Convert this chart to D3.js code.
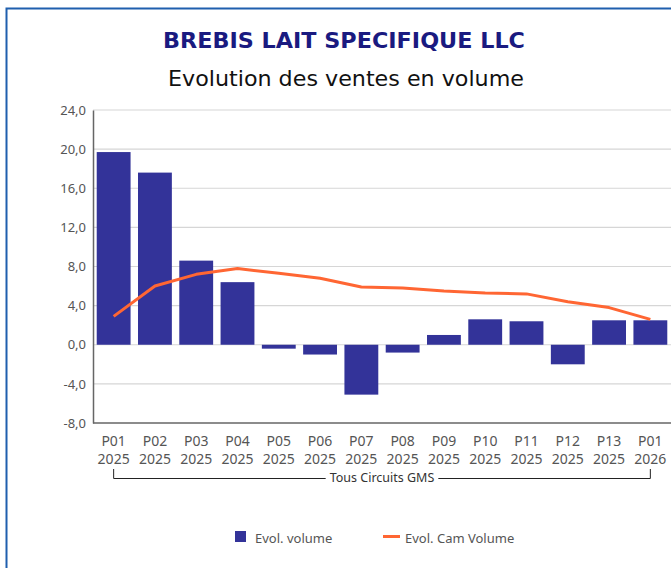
<!DOCTYPE html>
<html>
<head>
<meta charset="utf-8">
<script src="https://cdn.jsdelivr.net/npm/d3@7"></script>
<style>
  body { margin: 0; background: #fff; }
  svg { display: block; font-family: "Noto Sans", sans-serif; }
</style>
</head>
<body>
<div id="chart"></div>
<script>
// --- data ---
const periods = ["P01", "P02", "P03", "P04", "P05", "P06", "P07", "P08", "P09", "P10", "P11", "P12", "P13", "P01"];
const years = ["2025", "2025", "2025", "2025", "2025", "2025", "2025", "2025", "2025", "2025", "2025", "2025", "2025", "2026"];
const evolVolume = [19.7, 17.6, 8.6, 6.4, -0.4, -1.0, -5.1, -0.8, 1.0, 2.6, 2.4, -2.0, 2.5, 2.5];
const evolCam = [2.9, 6.0, 7.2, 7.8, 7.3, 6.8, 5.9, 5.8, 5.5, 5.3, 5.2, 4.4, 3.8, 2.6];
const yTicks = [-8, -4, 0, 4, 8, 12, 16, 20, 24];

const width = 671, height = 568;
const svg = d3.select("#chart").append("svg")
  .attr("width", width)
  .attr("height", height);

// frame
svg.append("rect")
  .attr("x", 6.5).attr("y", 8.5)
  .attr("width", width + 10).attr("height", height + 10)
  .attr("fill", "none")
  .attr("stroke", "#1f5fae")
  .attr("stroke-width", 2);

// titles
svg.append("text")
  .attr("x", 344).attr("y", 48)
  .attr("text-anchor", "middle")
  .attr("font-family", "DejaVu Sans")
  .attr("font-size", 21.5).attr("font-weight", "bold")
  .attr("fill", "#1a1a80")
  .attr("textLength", 362).attr("lengthAdjust", "spacingAndGlyphs")
  .text("BREBIS LAIT SPECIFIQUE LLC");

svg.append("text")
  .attr("x", 346).attr("y", 86)
  .attr("text-anchor", "middle")
  .attr("font-family", "DejaVu Sans")
  .attr("font-size", 21)
  .attr("fill", "#111")
  .attr("textLength", 356).attr("lengthAdjust", "spacingAndGlyphs")
  .text("Evolution des ventes en volume");

// scales
const idx = d3.range(periods.length);
const x = d3.scaleBand().domain(idx).range([93, 671]).paddingInner(0.18).paddingOuter(0.09);
const y = d3.scaleLinear().domain([-8, 24]).range([423, 110]);

// gridlines
svg.append("g")
  .selectAll("line")
  .data(yTicks.filter(t => t !== -8))
  .join("line")
  .attr("x1", 93).attr("x2", 671)
  .attr("y1", d => y(d)).attr("y2", d => y(d))
  .attr("stroke", "#d6d6d6")
  .attr("stroke-width", 1.2);

// y axis
const yAxis = svg.append("g")
  .attr("transform", "translate(93,0)")
  .call(d3.axisLeft(y).tickValues(yTicks).tickSize(0).tickPadding(7)
    .tickFormat(d => d3.format(".1f")(d).replace(".", ",").replace("−", "-")));
yAxis.select(".domain").attr("stroke", "#666").attr("stroke-width", 1.5);
yAxis.selectAll("text").attr("font-size", 13).attr("fill", "#555").attr("font-family", "Noto Sans");

// bottom axis line
svg.append("line")
  .attr("x1", 93).attr("x2", 671)
  .attr("y1", y(-8)).attr("y2", y(-8))
  .attr("stroke", "#666").attr("stroke-width", 1.5);

// bars
svg.append("g")
  .selectAll("rect")
  .data(evolVolume)
  .join("rect")
  .attr("x", (d, i) => x(i))
  .attr("width", x.bandwidth())
  .attr("y", d => y(Math.max(0, d)))
  .attr("height", d => Math.abs(y(d) - y(0)))
  .attr("fill", "#333399");

// line
const line = d3.line()
  .x((d, i) => x(i) + x.bandwidth() / 2)
  .y(d => y(d));
svg.append("path")
  .datum(evolCam)
  .attr("d", line)
  .attr("fill", "none")
  .attr("stroke", "#ff6633")
  .attr("stroke-width", 3)
  .attr("stroke-linejoin", "round");

// x labels
const xl = svg.append("g")
  .selectAll("text")
  .data(idx)
  .join("text")
  .attr("x", i => x(i) + x.bandwidth() / 2)
  .attr("text-anchor", "middle")
  .attr("font-size", 14)
  .attr("fill", "#555");
xl.append("tspan").attr("x", i => x(i) + x.bandwidth() / 2).attr("y", 446).text(i => periods[i]);
xl.append("tspan").attr("x", i => x(i) + x.bandwidth() / 2).attr("y", 464).text(i => years[i]);

// group bracket
const bx1 = x(0) + x.bandwidth() / 2;
const bx2 = x(periods.length - 1) + x.bandwidth() / 2;
const bmid = (bx1 + bx2) / 2;
const groupLabel = svg.append("text")
  .attr("x", bmid).attr("y", 482)
  .attr("text-anchor", "middle")
  .attr("font-size", 12.5)
  .attr("fill", "#333")
  .text("Tous Circuits GMS");
const gw = groupLabel.node().getComputedTextLength();
svg.append("path")
  .attr("d", `M${bx1},469V478.5H${bmid - gw / 2 - 4}M${bmid + gw / 2 + 4},478.5H${bx2}V469`)
  .attr("fill", "none")
  .attr("stroke", "#222")
  .attr("stroke-width", 1);

// legend
const legend = svg.append("g");
legend.append("rect")
  .attr("x", 235).attr("y", 531)
  .attr("width", 11).attr("height", 11)
  .attr("fill", "#333399");
legend.append("text")
  .attr("x", 255).attr("y", 543)
  .attr("font-size", 13).attr("fill", "#555")
  .text("Evol. volume");
legend.append("line")
  .attr("x1", 383).attr("x2", 400)
  .attr("y1", 536.5).attr("y2", 536.5)
  .attr("stroke", "#ff6633").attr("stroke-width", 3);
legend.append("text")
  .attr("x", 405).attr("y", 543)
  .attr("font-size", 13).attr("fill", "#555")
  .text("Evol. Cam Volume");
</script>
</body>
</html>
